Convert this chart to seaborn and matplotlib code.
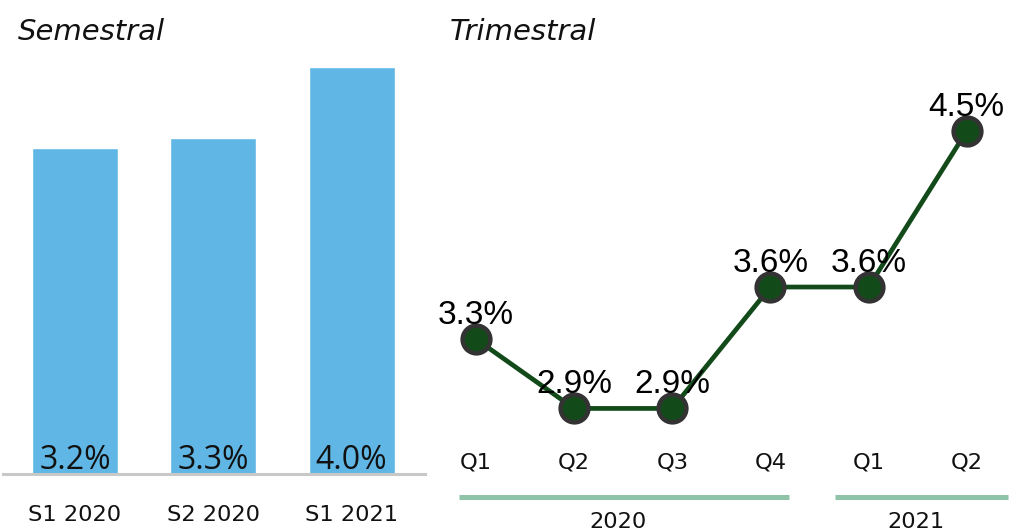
import numpy as np
import pandas as pd
import matplotlib
matplotlib.use('Agg')
import matplotlib.pyplot as plt
import matplotlib.transforms as mtransforms
import seaborn as sns

# Datos
semestres = ['S1 2020', 'S2 2020', 'S1 2021']
valores_sem = [3.2, 3.3, 4.0]

trimestres = ['Q1', 'Q2', 'Q3', 'Q4', 'Q1', 'Q2']
valores_trim = [3.3, 2.9, 2.9, 3.6, 3.6, 4.5]
anios = ['2020', '2021']

sns.set_theme(style='white')
plt.rcParams['font.family'] = ['DejaVu Sans']

fig = plt.figure(figsize=(10.09, 5.32), dpi=100)

# Semestral: barras
ax1 = fig.add_axes([3 / 1009, 58 / 532, 422 / 1009, 414 / 532])
df_sem = pd.DataFrame({'periodo': semestres, 'valor': valores_sem})
sns.barplot(data=df_sem, x='periodo', y='valor', color='#60b6e4', width=0.62,
            saturation=1, ax=ax1)
ax1.set_xlim(-0.52, 2.53)
ax1.set_ylim(0, 4.067)
ax1.set_xlabel('')
ax1.set_ylabel('')
ax1.set_yticks([])
for s in ['left', 'right', 'top']:
    ax1.spines[s].set_visible(False)
ax1.spines['bottom'].set_color('#c8c8c8')
ax1.spines['bottom'].set_linewidth(2.2)
ax1.tick_params(axis='x', length=0, pad=22, labelsize=16.2, labelcolor='#111111')
for i, v in enumerate(valores_sem):
    ax1.annotate(f'{v:.1f}%', (i, 0), xytext=(0, 3.5), textcoords='offset points',
                 ha='center', va='baseline', fontsize=23, color='#111111',
                 family=['Open Sans', 'DejaVu Sans'])

# Trimestral: linea
ax2 = fig.add_axes([430 / 1009, 92 / 532, 579 / 1009, 380 / 532])
ax2.patch.set_alpha(0)
df_trim = pd.DataFrame({'pos': np.arange(len(trimestres)), 'valor': valores_trim})
sns.lineplot(data=df_trim, x='pos', y='valor', color='#124a1a', linewidth=3.4,
             marker='o', markersize=20, markerfacecolor='#124a1a',
             markeredgecolor='#333333', markeredgewidth=3.2, ax=ax2)
ax2.set_xlim(-0.468, 5.43)
ax2.set_ylim(2.718, 4.909)
ax2.set_xlabel('')
ax2.set_ylabel('')
ax2.set_yticks([])
ax2.set_xticks(df_trim['pos'])
ax2.set_xticklabels(trimestres)
ax2.tick_params(axis='x', length=0, pad=9, labelsize=16.2, labelcolor='#111111')
for s in ax2.spines.values():
    s.set_visible(False)
for x, v in zip(df_trim['pos'], valores_trim):
    ax2.annotate(f'{v:.1f}%', (x, v), xytext=(0, 11), textcoords='offset points',
                 ha='center', va='baseline', fontsize=24, color='black',
                 family=['Liberation Sans', 'DejaVu Sans'])

# Agrupacion por anio debajo del eje
trans = mtransforms.blended_transform_factory(ax2.transData, ax2.transAxes)
grupos = [(-0.173, 3.19), (3.656, 5.42)]
centros = [1.45, 4.48]
for (x0, x1), xc, anio in zip(grupos, centros, anios):
    ax2.plot([x0, x1], [-0.15, -0.15], transform=trans, color='#8fc4a8',
             linewidth=3.6, clip_on=False, solid_capstyle='butt')
    ax2.text(xc, -0.19, anio, transform=trans, ha='center', va='top',
             fontsize=16.2, color='#111111')

fig.text(18 / 1009, 1 - 40 / 532, 'Semestral', fontsize=21, style='italic',
         va='baseline', color='#111111')
fig.text(450 / 1009, 1 - 40 / 532, 'Trimestral', fontsize=21, style='italic',
         va='baseline', color='#111111')

fig.savefig('out.png', dpi=100)
